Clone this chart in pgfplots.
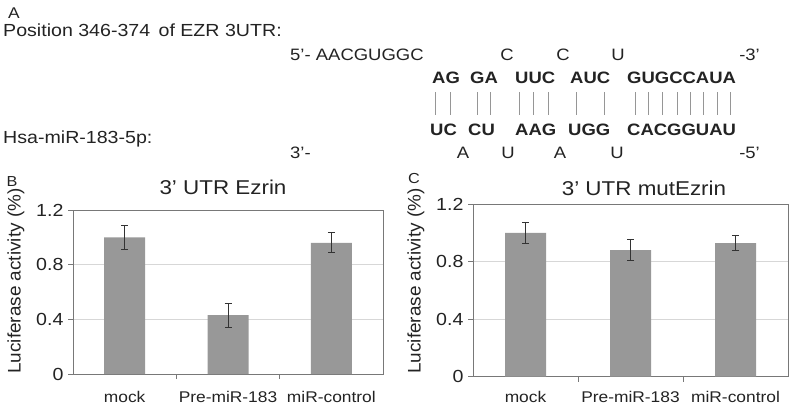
\documentclass[border=0pt]{standalone}
\usepackage{pgfplots}
\pgfplotsset{compat=1.18}
\usepackage{fontspec}
\setmainfont{Liberation Sans}[FakeStretch=1.12]
\newfontfamily\ylfont{Liberation Sans}[FakeStretch=1.04]
\definecolor{barcol}{RGB}{152,152,152}
\definecolor{axcol}{RGB}{120,120,120}
\definecolor{gridcol}{RGB}{215,215,215}
\definecolor{txt}{RGB}{35,35,35}
\definecolor{pair}{RGB}{150,150,150}
\newcommand{\fs}[1]{\fontsize{#1bp}{#1bp}\selectfont}
\pgfplotsset{
  lucstyle/.style={
    scale only axis,
    anchor=south west,
    xmin=-0.5, xmax=2.5,
    ymin=0, ymax=1.2,
    ytick={0,0.4,0.8,1.2},
    yticklabels={0,0.4,0.8,1.2},
    xtick={0.5,1.5},
    xticklabels={},
    extra x ticks={0,1,2},
    extra x tick labels={mock,Pre-miR-183,miR-control},
    extra x tick style={major tick length=0pt, tick label style={yshift=#1}},
    xtick pos=bottom, ytick pos=left,
    tick align=outside,
    major tick length=5bp,
    tick style={axcol, line width=0.8bp},
    axis line style={axcol, line width=0.9bp},
    ymajorgrids, grid style={gridcol, line width=0.9bp},
    x tick label style={font=\fs{15.5}, text=txt},
    y tick label style={font=\fs{17.5}, text=txt, xshift=-1bp},
    /pgf/number format/assume math mode=true,
  },
  lucbar/.style={
    ybar, bar width=41bp, fill=barcol, draw=none,
    error bars/.cd, y dir=both, y explicit,
    error bar style={black!80, line width=0.9bp},
    error mark options={rotate=90, mark size=3.5bp, black!80, line width=0.9bp},
  },
}
\begin{document}
\begin{tikzpicture}[x=1bp,y=1bp]
\path[use as bounding box] (0,0) rectangle (800,-407);
% ---- Panel A text ----
\begin{scope}[every node/.style={inner sep=0pt, text=txt}]
\node[anchor=base, font=\fs{15.5}] at (14,-18.5) {A};
\node[anchor=base west, font=\fs{17.5}] at (3,-36) {Position 346-374 \,of EZR 3UTR:};
\node[anchor=base west, font=\fs{17.5}] at (3,-143) {Hsa-miR-183-5p:};
\begin{scope}[every node/.append style={font=\fs{16.5}}]
\node[anchor=base west] at (290,-60) {5’- AACGUGGC};
\node[anchor=base] at (507,-60) {C};
\node[anchor=base] at (563,-60) {C};
\node[anchor=base] at (618,-60) {U};
\node[anchor=base east] at (760,-60) {-3’};
\node[anchor=base west] at (290,-158.3) {3’-};
\node[anchor=base] at (463,-158.3) {A};
\node[anchor=base] at (508,-158.3) {U};
\node[anchor=base] at (560,-158.3) {A};
\node[anchor=base] at (617,-158.3) {U};
\node[anchor=base east] at (760,-158.3) {-5’};
\end{scope}
\begin{scope}[every node/.append style={font=\bfseries\fs{16.5}}]
\node[anchor=base west] at (432,-83.3) {AG};
\node[anchor=base west] at (470,-83.3) {GA};
\node[anchor=base west] at (515,-83.3) {UUC};
\node[anchor=base west] at (570,-83.3) {AUC};
\node[anchor=base west] at (627,-83.3) {GUGCCAUA};
\node[anchor=base west] at (430,-135) {UC};
\node[anchor=base west] at (468,-135) {CU};
\node[anchor=base west] at (515,-135) {AAG};
\node[anchor=base west] at (568,-135) {UGG};
\node[anchor=base west] at (627,-135) {CACGGUAU};
\end{scope}
\foreach \xx in {435,450,477,490,519,533,548,576,604,635,648,662,677,690,703,717,730}
  \draw[pair, line width=1bp] (\xx,-92) -- (\xx,-115);
% panel letters, titles, y labels
\node[font=\fs{14.5}] at (12,-182) {B};
\node[font=\fs{14.5}] at (414,-179) {C};
\node[font=\fs{20}] at (223,-187.5) {3’ UTR Ezrin};
\node[font=\fs{20}] at (644,-188) {3’ UTR mutEzrin};
\node[rotate=90, font=\ylfont\fs{18.2}] at (16,-281) {Luciferase activity (\%)};
\node[rotate=90, font=\ylfont\fs{18.2}] at (416,-281) {Luciferase activity (\%)};
\end{scope}
% ---- Panel B ----
\begin{axis}[lucstyle=-14bp, at={(73bp,-374bp)}, width=310bp, height=164bp]
\addplot[lucbar] coordinates {
  (0,1.00) +- (0,0.090)
  (1,0.43) +- (0,0.087)
  (2,0.96) +- (0,0.073)
};
\end{axis}
% ---- Panel C ----
\begin{axis}[lucstyle=-11.5bp, at={(473bp,-376.7bp)}, width=315bp, height=172.5bp]
\addplot[lucbar] coordinates {
  (0,1.00) +- (0,0.074)
  (1,0.88) +- (0,0.072)
  (2,0.93) +- (0,0.055)
};
\end{axis}
\end{tikzpicture}
\end{document}
